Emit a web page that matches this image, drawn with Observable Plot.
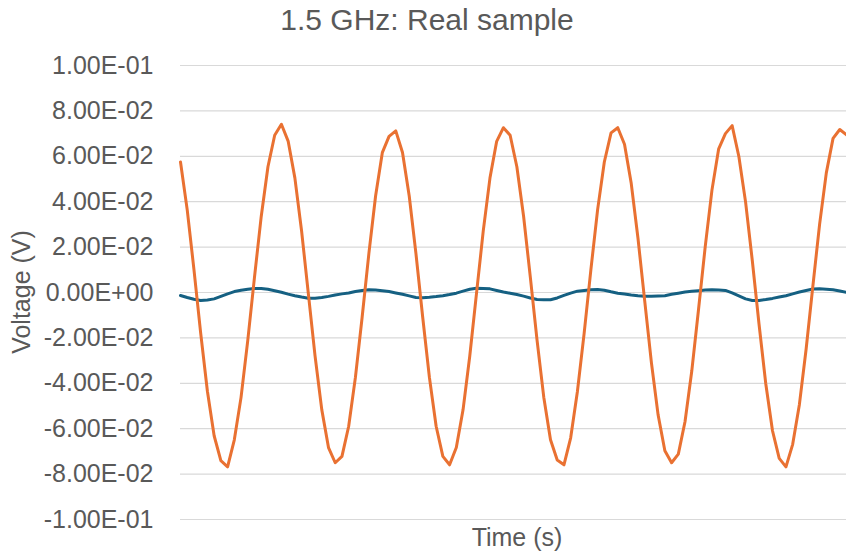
<!DOCTYPE html>
<html>
<head>
<meta charset="utf-8">
<script src="https://cdn.jsdelivr.net/npm/d3@7"></script>
<script src="https://cdn.jsdelivr.net/npm/@observablehq/plot@0.6"></script>
<style>
  html, body { margin: 0; padding: 0; background: #fff; }
  #chart { position: relative; width: 846px; height: 554px; }
</style>
</head>
<body>
<div id="chart"></div>
<script>
const title = "1.5 GHz: Real sample";
const xLabel = "Time (s)";
const yLabel = "Voltage (V)";

const yTicks = [0.1, 0.08, 0.06, 0.04, 0.02, 0, -0.02, -0.04, -0.06, -0.08, -0.1];
const yTickLabels = ["1.00E-01", "8.00E-02", "6.00E-02", "4.00E-02", "2.00E-02", "0.00E+00",
  "-2.00E-02", "-4.00E-02", "-6.00E-02", "-8.00E-02", "-1.00E-01"];

// sample index (time axis, no tick labels shown)
const orangeValues = [
  0.0575, 0.0364, 0.0101, -0.0179, -0.0435, -0.0631, -0.0741, -0.0768, -0.0649, -0.0462,
  -0.0211, 0.0068, 0.0335, 0.0554, 0.0693, 0.0741, 0.0667, 0.0505, 0.0271, -0.0004,
  -0.0279, -0.0516, -0.0683, -0.0750, -0.0722, -0.0589, -0.0374, -0.0109, 0.0171, 0.0425,
  0.0616, 0.0688, 0.0712, 0.0617, 0.0425, 0.0171, -0.0108, -0.0374, -0.0589, -0.0722,
  -0.0759, -0.0683, -0.0517, -0.0280, -0.0004, 0.0270, 0.0504, 0.0666, 0.0726, 0.0693,
  0.0554, 0.0336, 0.0068, -0.0210, -0.0461, -0.0649, -0.0738, -0.0759, -0.0640, -0.0436,
  -0.0180, 0.0100, 0.0364, 0.0575, 0.0703, 0.0726, 0.0653, 0.0481, 0.0240, -0.0036,
  -0.0309, -0.0540, -0.0697, -0.0750, -0.0712, -0.0568, -0.0346, -0.0076, 0.0202, 0.0451,
  0.0633, 0.0700, 0.0735, 0.0599, 0.0398, 0.0140, -0.0140, -0.0402, -0.0609, -0.0731,
  -0.0768, -0.0669, -0.0493, -0.0249, 0.0028, 0.0300, 0.0527, 0.0679, 0.0718, 0.0695
];
const blueValues = [
  -0.0013, -0.0022, -0.0030, -0.0035, -0.0033, -0.0028, -0.0017, -0.0006, 0.0004, 0.0010,
  0.0014, 0.0018, 0.0018, 0.0014, 0.0008, 0.0001, -0.0007, -0.0014, -0.0020, -0.0025,
  -0.0025, -0.0022, -0.0017, -0.0011, -0.0006, -0.0002, 0.0004, 0.0009, 0.0012, 0.0011,
  0.0008, 0.0004, -0.0002, -0.0008, -0.0015, -0.0022, -0.0023, -0.0021, -0.0018, -0.0014,
  -0.0009, -0.0003, 0.0006, 0.0014, 0.0019, 0.0018, 0.0016, 0.0009, 0.0002, -0.0003,
  -0.0009, -0.0016, -0.0024, -0.0031, -0.0032, -0.0032, -0.0024, -0.0013, -0.0003, 0.0006,
  0.0009, 0.0012, 0.0013, 0.0010, 0.0003, -0.0003, -0.0007, -0.0011, -0.0014, -0.0016,
  -0.0016, -0.0015, -0.0014, -0.0008, -0.0003, 0.0002, 0.0005, 0.0008, 0.0011, 0.0012,
  0.0011, 0.0009, -0.0002, -0.0015, -0.0028, -0.0035, -0.0035, -0.0031, -0.0026, -0.0020,
  -0.0014, -0.0006, 0.0002, 0.0009, 0.0015, 0.0016, 0.0014, 0.0012, 0.0007, 0.0001
];

const orange = orangeValues.map((v, i) => ({i, v}));
const blue = blueValues.map((v, i) => ({i, v}));

const font = "'Liberation Sans', Arial, sans-serif";
const textColor = "#595959";

const plot = Plot.plot({
  width: 846,
  height: 554,
  marginTop: 65,
  marginBottom: 35,
  marginLeft: 180,
  marginRight: 0,
  style: {fontFamily: font, color: textColor, background: "#fff", overflow: "visible"},
  x: {domain: [0, orangeValues.length - 1], axis: null},
  y: {domain: [-0.1, 0.1], axis: null},
  marks: [
    Plot.ruleY(yTicks, {stroke: "#d9d9d9", strokeWidth: 1.2}),
    Plot.axisY({
      ticks: yTicks,
      tickFormat: d => yTickLabels[yTicks.indexOf(d)],
      tickSize: 0,
      tickPadding: 27,
      fontSize: 25,
      fill: textColor,
      label: null
    }),
    Plot.line(blue, {x: "i", y: "v", stroke: "#156082", strokeWidth: 3, strokeLinejoin: "round", strokeLinecap: "round"}),
    Plot.line(orange, {x: "i", y: "v", stroke: "#E97132", strokeWidth: 3, strokeLinejoin: "round", strokeLinecap: "round"})
  ]
});

document.getElementById("chart").appendChild(plot);

const svg = d3.select(plot);
svg.append("text")
  .attr("x", 427).attr("y", 30)
  .attr("text-anchor", "middle")
  .attr("font-size", 30)
  .attr("font-family", font)
  .attr("fill", textColor)
  .text(title);
svg.append("text")
  .attr("x", 517).attr("y", 546)
  .attr("text-anchor", "middle")
  .attr("font-size", 25)
  .attr("font-family", font)
  .attr("fill", textColor)
  .text(xLabel);
svg.append("text")
  .attr("transform", "translate(30,292) rotate(-90)")
  .attr("text-anchor", "middle")
  .attr("font-size", 25)
  .attr("font-family", font)
  .attr("fill", textColor)
  .text(yLabel);
</script>
</body>
</html>
